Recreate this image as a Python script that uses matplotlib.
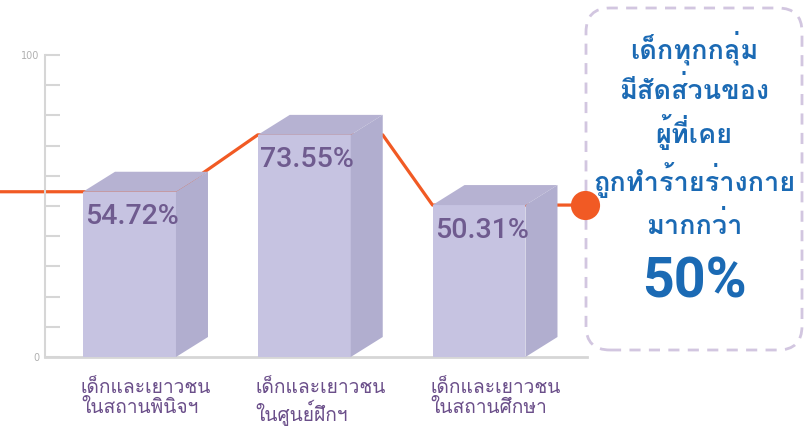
import matplotlib
matplotlib.use("Agg")
import matplotlib.pyplot as plt
from matplotlib import font_manager
from matplotlib.ft2font import FT2Font
from matplotlib.patches import Polygon, FancyBboxPatch

# ---------------- data ----------------
categories = ["เด็กและเยาวชน\nในสถานพินิจฯ",
              "เด็กและเยาวชน\nในศูนย์ฝึกฯ",
              "เด็กและเยาวชน\nในสถานศึกษา"]
values = [54.72, 73.55, 50.31]
value_labels = ["54.72%", "73.55%", "50.31%"]
ytick_values = [0, 100]
box_lines = ["เด็กทุกกลุ่ม", "มีสัดส่วนของ", "ผู้ที่เคย", "ถูกทำร้ายร่างกาย", "มากกว่า"]
box_big = "50%"

# ---------------- fonts ----------------
thai_family = None
for f in font_manager.fontManager.ttflist:
    if "CJK" in f.name:
        continue
    try:
        cmap = FT2Font(f.fname).get_charmap()
    except Exception:
        continue
    if 0x0E01 in cmap and 0x0E40 in cmap and 0x0E4C in cmap:
        thai_family = f.name
        break
thai_fonts = ([thai_family] if thai_family else []) + ["DejaVu Sans"]
num_fonts = ["Roboto", "DejaVu Sans"]

# ---------------- colors ----------------
c_front = "#c6c3e1"
c_top = "#b6b2d2"
c_side = "#b1aecf"
c_line = "#f15a24"
c_val = "#6f5b8f"
c_cat = "#6b4f8a"
c_blue = "#1b6ab4"
c_box = "#d2c6e0"
c_axis = "#d6d6d6"

W, H = 810, 430
fig = plt.figure(figsize=(W / 100, H / 100), dpi=100)
ax_left, ax_right = 45, 587
ax_bottom, ax_top = 357, 55
ax = fig.add_axes([ax_left / W, (H - ax_bottom) / H,
                   (ax_right - ax_left) / W, (ax_bottom - ax_top) / H])
ax.set_facecolor("none")
ax.set_zorder(2)

px_per_x = 174.75
x0_px = 129.5
ax.set_xlim((ax_left - x0_px) / px_per_x, (ax_right - x0_px) / px_per_x)
ax.set_ylim(0, 100)

x = list(range(len(values)))
w = 0.532
dx = 32 / px_per_x
dy = 20 / ((ax_bottom - ax_top) / 100)

# orange line (behind bars)
left_x = (0 - x0_px) / px_per_x
dot_x = (585 - x0_px) / px_per_x
lx = [left_x, x[0] + w / 2, x[1] - w / 2, x[1] + w / 2 + dx,
      x[2] - w / 2, x[2] + w / 2 + dx, dot_x]
ly = [values[0], values[0], values[1], values[1], values[2], values[2], values[2]]
ax.plot(lx, ly, color=c_line, lw=2.3, zorder=1, clip_on=False,
        solid_capstyle="butt")

# 3D bars
for xi, v in zip(x, values):
    ax.bar(xi, v, width=w, color=c_front, zorder=3, linewidth=0)
    top = Polygon([(xi - w / 2, v), (xi + w / 2, v),
                   (xi + w / 2 + dx, v + dy), (xi - w / 2 + dx, v + dy)],
                  closed=True, facecolor=c_top, edgecolor="none", zorder=3)
    side = Polygon([(xi + w / 2, 0), (xi + w / 2 + dx, dy),
                    (xi + w / 2 + dx, v + dy), (xi + w / 2, v)],
                   closed=True, facecolor=c_side, edgecolor="none", zorder=3)
    ax.add_patch(top)
    ax.add_patch(side)

# value labels
for xi, v, lab in zip(x, values, value_labels):
    ax.annotate(lab, (xi - w / 2, v), xytext=(1.5, -18), textcoords="offset points",
                ha="left", va="center", fontsize=20.5, color=c_val,
                family=num_fonts, fontweight="medium", zorder=5)

# category labels
for xi, cat in zip(x, categories):
    ax.annotate(cat, (xi - w / 2, 0), xytext=(-1.5, -16), textcoords="offset points",
                ha="left", va="top", fontsize=13.8, color=c_cat,
                family=thai_fonts, linespacing=1.1, annotation_clip=False)

# axes styling
for s in ["top", "right"]:
    ax.spines[s].set_visible(False)
ax.spines["left"].set_color(c_axis)
ax.spines["left"].set_linewidth(1.5)
ax.spines["bottom"].set_color(c_axis)
ax.spines["bottom"].set_linewidth(2)
ax.spines["bottom"].set_zorder(2)
ax.set_xticks([])
ax.set_yticks(range(0, 101, 10))
ax.set_yticklabels([str(t) if t in ytick_values else "" for t in range(0, 101, 10)])
ax.tick_params(axis="y", direction="in", length=11, width=1.5, color=c_axis,
               labelcolor="#b0b0b0", labelsize=7, pad=4)

# dashed rounded box (behind the axes so the dot sits on top)
bx0, by0, bx1, by1 = 586, 8, 802, 350
box = FancyBboxPatch((bx0, H - by1), bx1 - bx0, by1 - by0,
                     boxstyle="round,pad=0,rounding_size=24",
                     transform=None, facecolor="none", edgecolor=c_box,
                     linewidth=2, linestyle=(0, (4, 3)), zorder=1)
fig.patches.append(box)

# dot on top of box border
ax.plot([dot_x], [values[2]], "o", ms=21, color=c_line, zorder=6, clip_on=False,
        markeredgewidth=0)

# box text
cx = (bx0 + bx1) / 2 / W
line_y = [48, 90, 132, 180, 225]
for t, yy in zip(box_lines, line_y):
    fig.text(cx, 1 - yy / H, t, ha="center", va="center", fontsize=19.5,
             color=c_blue, family=thai_fonts, fontweight="bold")
fig.text(cx, 1 - 283 / H, box_big, ha="center", va="center", fontsize=40,
         color=c_blue, family=num_fonts, fontweight="bold")

fig.savefig("out.png", dpi=100)
